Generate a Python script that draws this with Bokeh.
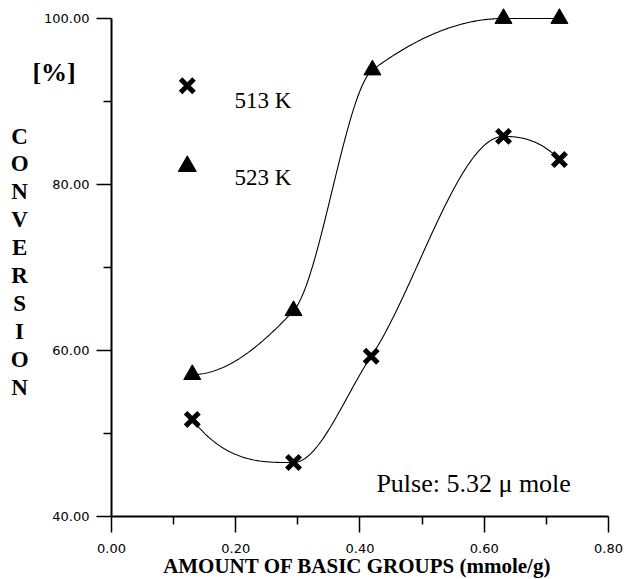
import numpy as np
from bokeh.plotting import figure
from bokeh.models import Range1d, FixedTicker, PrintfTickFormatter
from bokeh.core.properties import value
from bokeh.embed import file_html
from bokeh.resources import INLINE

# ---------------- data ----------------
x_513 = [0.130, 0.293, 0.418, 0.631, 0.721]
y_513 = [51.7, 46.5, 59.3, 85.8, 83.0]
x_523 = [0.130, 0.293, 0.420, 0.631, 0.721]
y_523 = [57.1, 64.8, 93.8, 100.0, 100.0]

series_labels = ["513 K", "523 K"]
x_ticks = [0.0, 0.2, 0.4, 0.6, 0.8]
x_tick_labels = ["0.00", "0.20", "0.40", "0.60", "0.80"]
x_minor_ticks = [0.1, 0.3, 0.5, 0.7]
y_ticks = [40, 60, 80, 100]
y_tick_labels = ["40.00", "60.00", "80.00", "100.00"]
y_minor_ticks = [50, 70, 90]
x_title = "AMOUNT OF BASIC GROUPS  (mmole/g)"
y_title = "CONVERSION"
unit_text = "[%]"
note_text = "Pulse: 5.32  \u03bc mole"


def pchip(x, y, n=80):
    """Monotone piecewise cubic Hermite curve through the points."""
    x = np.asarray(x, float)
    y = np.asarray(y, float)
    h = np.diff(x)
    d = np.diff(y) / h
    m = np.zeros_like(y)
    for k in range(1, len(x) - 1):
        if d[k - 1] * d[k] > 0:
            w1 = 2 * h[k] + h[k - 1]
            w2 = h[k] + 2 * h[k - 1]
            m[k] = (w1 + w2) / (w1 / d[k - 1] + w2 / d[k])

    def end(h0, h1, d0, d1):
        s = ((2 * h0 + h1) * d0 - h0 * d1) / (h0 + h1)
        if np.sign(s) != np.sign(d0):
            return 0.0
        if np.sign(d0) != np.sign(d1) and abs(s) > abs(3 * d0):
            return 3 * d0
        return s

    m[0] = end(h[0], h[1], d[0], d[1])
    m[-1] = end(h[-1], h[-2], d[-1], d[-2])
    xs, ys = [], []
    for k in range(len(h)):
        t = np.linspace(0, 1, n)
        h00 = 2 * t**3 - 3 * t**2 + 1
        h10 = t**3 - 2 * t**2 + t
        h01 = -2 * t**3 + 3 * t**2
        h11 = t**3 - t**2
        xs.extend(x[k] + t * h[k])
        ys.extend(h00 * y[k] + h10 * h[k] * m[k] + h01 * y[k + 1] + h11 * h[k] * m[k + 1])
    return xs, ys


W, H = 624, 579
p = figure(width=W, height=H,
           x_range=Range1d(-0.1787, 0.8258), y_range=Range1d(32.41, 102.17),
           output_backend="svg", toolbar_location=None,
           min_border_left=0, min_border_right=0,
           min_border_top=0, min_border_bottom=0)
p.grid.visible = False
p.outline_line_color = None
p.background_fill_color = "white"
p.border_fill_color = "white"

for ax in p.axis:
    ax.axis_line_width = 2
    ax.axis_line_color = "black"
    ax.major_tick_line_width = 1.5
    ax.minor_tick_line_width = 1.5
    ax.major_tick_line_color = "black"
    ax.minor_tick_line_color = "black"
    ax.major_tick_in = 0
    ax.minor_tick_in = 0
    ax.major_label_text_font = "DejaVu Sans"
    ax.major_label_text_font_size = "13px"
    ax.major_label_text_color = "black"

xa = p.xaxis[0]
xa.ticker = FixedTicker(ticks=x_ticks, minor_ticks=x_minor_ticks)
xa.formatter = PrintfTickFormatter(format="%.2f")
xa.major_label_overrides = dict(zip(x_ticks, x_tick_labels))
xa.bounds = (0, 0.8)
xa.fixed_location = 40
xa.major_tick_out = 16
xa.minor_tick_out = 8
xa.major_label_standoff = 11

ya = p.yaxis[0]
ya.ticker = FixedTicker(ticks=y_ticks, minor_ticks=y_minor_ticks)
ya.formatter = PrintfTickFormatter(format="%.2f")
ya.major_label_overrides = dict(zip(y_ticks, y_tick_labels))
ya.bounds = (40, 100)
ya.fixed_location = 0
ya.major_tick_out = 15
ya.minor_tick_out = 8
ya.major_label_standoff = 7

# smooth curves through the points
cx, cy = pchip(x_513, y_513)
p.line(cx, cy, line_color="black", line_width=1.1)
cx, cy = pchip(x_523, y_523)
p.line(cx, cy, line_color="black", line_width=1.1)

# markers
p.scatter(x_513, y_513, marker="x", size=19, line_width=5, line_color="black")
p.scatter(x_523, y_523, marker="triangle", size=17, fill_color="black",
          line_color="black", line_width=1)

# legend (manual)
leg_x = 0.122
leg_y = [91.9, 82.2]
leg_text_x = 0.198
leg_text_y = [90.1, 80.8]
p.scatter([leg_x], [leg_y[0]], marker="x", size=19, line_width=5, line_color="black")
p.scatter([leg_x], [leg_y[1]], marker="triangle", size=18, fill_color="black",
          line_color="black", line_width=1)
p.text(x=[leg_text_x] * 2, y=leg_text_y, text=series_labels,
       text_font=value("Liberation Serif"), text_font_size="23px", text_color="black",
       text_align="left", text_baseline="alphabetic")

# note
p.text(x=[0.4264], y=[43.98], text=[note_text], text_font=value("Liberation Serif"),
       text_font_size="26px", text_color="black",
       text_align="left", text_baseline="alphabetic")

# axis titles
p.text(x=[0.4], y=[33.98], text=[x_title], text_font=value("Liberation Serif"),
       text_font_style="bold", text_font_size="21px", text_color="black",
       text_align="center", text_baseline="middle")
p.text(x=[-0.0925], y=[93.5], text=[unit_text], text_font=value("Liberation Serif"),
       text_font_style="bold", text_font_size="26px", text_color="black",
       text_align="center", text_baseline="middle")
letters = list(y_title)
p.text(x=[-0.148] * len(letters), y=[85.84 - 3.361 * i for i in range(len(letters))],
       text=letters, text_font=value("Liberation Serif"),
       text_font_style="bold", text_font_size="23px", text_color="black",
       text_align="center", text_baseline="middle")

open("out.html", "w").write(file_html(p, INLINE))
